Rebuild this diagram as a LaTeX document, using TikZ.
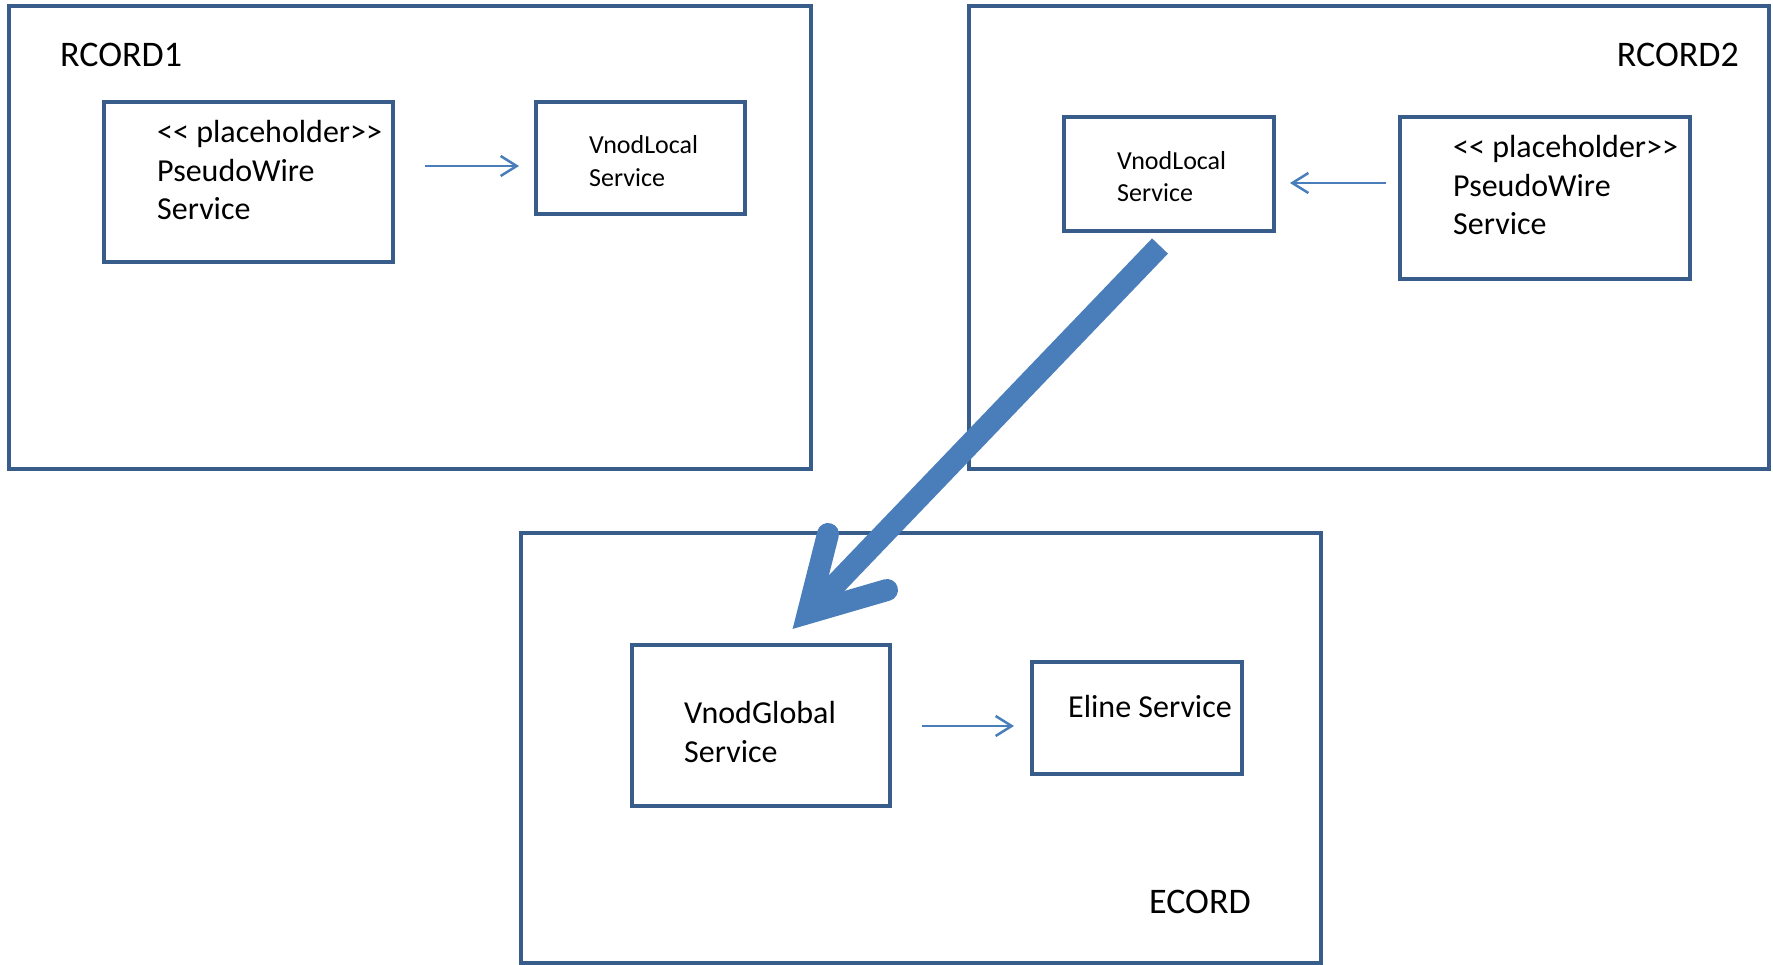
\documentclass[tikz,border=0pt]{standalone}
\usepackage{fontspec}
\setmainfont{Carlito}[Ligatures=TeXOff]
\usetikzlibrary{arrows.meta,calc}
\definecolor{boxc}{HTML}{385D8A}
\definecolor{arrc}{HTML}{4A7EBB}
\newcommand{\mylines}[1]{\begin{tabular}[t]{@{}l@{}}#1\end{tabular}}
\begin{document}
\begin{tikzpicture}[x=1pt,y=-1pt,
  frame/.style={draw=boxc, line width=4.5pt, inner sep=0pt, outer sep=0pt, anchor=north west},
  svcbox/.style={draw=boxc, line width=4.5pt, inner sep=0pt, outer sep=0pt, anchor=north west},
  biglabel/.style={font=\fontsize{36}{43}\selectfont, inner sep=0pt},
  txt/.style={font=\fontsize{32}{38.5}\selectfont, inner sep=0pt, anchor=base west},
  smalltxt/.style={font=\fontsize{26}{32.5}\selectfont, inner sep=0pt, anchor=base west},
  link/.style={draw=arrc, line width=2.5pt, -{Straight Barb[length=16pt,width=20pt]}},
  bigline/.style={draw=arrc, line width=22pt},
  bighead/.style={draw=arrc, line width=22pt, line cap=round, line join=miter}]
\useasboundingbox (0,0) rectangle (1773,965);
% containers
\node[frame, minimum width=802pt, minimum height=463pt] (rcord1) at (9,6) {};
\node[frame, minimum width=800pt, minimum height=463pt] (rcord2) at (969,6) {};
\node[frame, minimum width=800pt, minimum height=430pt] (ecord) at (521,533) {};
% container labels
\node[biglabel, anchor=base west] (l1) at (60,67) {RCORD1};
\node[biglabel, anchor=base east] (l2) at (1739,67) {RCORD2};
\node[biglabel, anchor=base west] (l3) at (1149,913) {ECORD};
% service boxes
\node[svcbox, minimum width=289pt, minimum height=160pt] (pw1) at (104,102) {};
\node[svcbox, minimum width=209pt, minimum height=112pt] (vl1) at (536,102) {};
\node[svcbox, minimum width=210pt, minimum height=114pt] (vl2) at (1064,117) {};
\node[svcbox, minimum width=290pt, minimum height=162pt] (pw2) at (1400,117) {};
\node[svcbox, minimum width=258pt, minimum height=161pt] (vg) at (632,645) {};
\node[svcbox, minimum width=210pt, minimum height=112pt] (eline) at (1032,662) {};
% texts
\node[txt] (tpw1) at (157,143) {\mylines{<< placeholder>>\\PseudoWire\\Service}};
\node[smalltxt] (tvl1) at (589,154) {\mylines{VnodLocal\\Service}};
\node[smalltxt] (tvl2) at (1117,169.5) {\mylines{VnodLocal\\Service}};
\node[txt] (tpw2) at (1453,158) {\mylines{<< placeholder>>\\PseudoWire\\Service}};
\node[txt, font=\fontsize{32}{39.5}\selectfont] (tvg) at (684,723) {\mylines{VnodGlobal\\Service}};
\node[txt] (tel) at (1068,717) {Eline Service};
% thin arrows
\draw[link] ($(pw1.north east)+(32,64)$) -- ($(vl1.north west)+(-17,64)$);
\draw[link] ($(pw2.north west)+(-14,66)$) -- ($(vl2.north east)+(16,66)$);
\draw[link] ($(vg.north east)+(32,81)$) -- ($(eline.north west)+(-18,64)$);
% big arrow
\coordinate (bigapex) at (808,613);
\coordinate (barbA) at (828,534);
\coordinate (barbB) at (887,590);
\draw[bigline] ($(vl2.south)+(-9,15)$) -- (bigapex);
\draw[bighead] (barbA) -- (bigapex) -- (barbB);
\end{tikzpicture}
\end{document}
